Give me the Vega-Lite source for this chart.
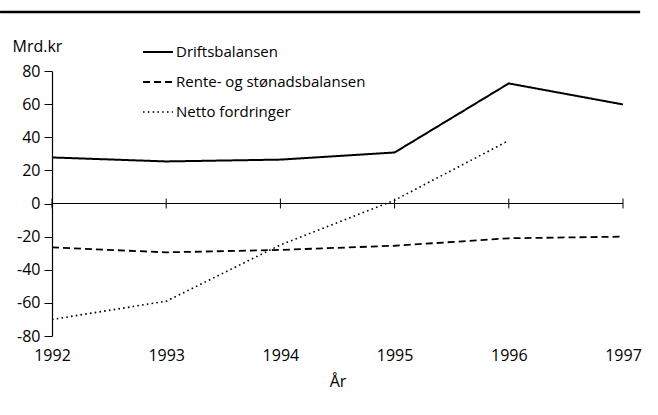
{
  "$schema": "https://vega.github.io/schema/vega-lite/v6.json",
  "width": 571,
  "height": 265,
  "autosize": "none",
  "padding": {"left": 52, "top": 71, "right": 35, "bottom": 79},
  "background": "white",
  "config": {
    "view": {"stroke": null},
    "font": "Open Sans",
    "axis": {"labelFont": "Open Sans", "titleFont": "Open Sans", "labelColor": "black", "titleColor": "black", "domainColor": "black", "tickColor": "black", "grid": false}
  },
  "datasets": {
    "series": [
      {"year": 1992, "value": 27.8, "serie": "Driftsbalansen"},
      {"year": 1993, "value": 25.4, "serie": "Driftsbalansen"},
      {"year": 1994, "value": 26.5, "serie": "Driftsbalansen"},
      {"year": 1995, "value": 30.8, "serie": "Driftsbalansen"},
      {"year": 1996, "value": 72.5, "serie": "Driftsbalansen"},
      {"year": 1997, "value": 59.8, "serie": "Driftsbalansen"},
      {"year": 1992, "value": -26.5, "serie": "Rente- og stønadsbalansen"},
      {"year": 1993, "value": -29.5, "serie": "Rente- og stønadsbalansen"},
      {"year": 1994, "value": -28, "serie": "Rente- og stønadsbalansen"},
      {"year": 1995, "value": -25.5, "serie": "Rente- og stønadsbalansen"},
      {"year": 1996, "value": -21, "serie": "Rente- og stønadsbalansen"},
      {"year": 1997, "value": -20, "serie": "Rente- og stønadsbalansen"},
      {"year": 1992, "value": -70, "serie": "Netto fordringer"},
      {"year": 1993, "value": -59, "serie": "Netto fordringer"},
      {"year": 1994, "value": -25, "serie": "Netto fordringer"},
      {"year": 1995, "value": 2, "serie": "Netto fordringer"},
      {"year": 1996, "value": 38, "serie": "Netto fordringer"}
    ],
    "years": [{"year": 1992}, {"year": 1993}, {"year": 1994}, {"year": 1995}, {"year": 1996}, {"year": 1997}]
  },
  "layer": [
    {
      "data": {"name": "series"},
      "mark": {"type": "line", "color": "black", "strokeCap": "butt"},
      "encoding": {
        "x": {
          "field": "year", "type": "quantitative",
          "scale": {"domain": [1992, 1997], "nice": false, "zero": false},
          "axis": {"title": "År", "titleFontSize": 16, "titleFontWeight": "normal", "titlePadding": 10, "labelFontSize": 16, "labelPadding": 11, "domain": false, "ticks": false, "values": [1992, 1993, 1994, 1995, 1996, 1997], "format": "d", "labelFlush": false, "labelOverlap": false}
        },
        "y": {
          "field": "value", "type": "quantitative",
          "scale": {"domain": [-80, 80], "nice": false},
          "axis": {"title": "Mrd.kr", "titleAngle": 0, "titleX": -40, "titleY": -20, "titleAlign": "left", "titleBaseline": "alphabetic", "titleFontSize": 16, "titleFontWeight": "normal", "labelFontSize": 16, "values": [-80, -60, -40, -20, 0, 20, 40, 60, 80], "labelExpr": "replace(datum.label, '−', '-')", "tickSize": 8, "labelPadding": 4, "domainWidth": 1.2, "labelOverlap": false}
        },
        "strokeDash": {
          "field": "serie", "type": "nominal",
          "scale": {"domain": ["Driftsbalansen", "Rente- og stønadsbalansen", "Netto fordringer"], "range": [[1, 0], [7, 4], [1.6, 3.2]]},
          "legend": {"orient": "none", "legendX": 90, "legendY": -35, "title": null, "symbolType": "stroke", "symbolSize": 900, "symbolStrokeColor": "black", "symbolStrokeWidth": 1.5, "labelFontSize": 15, "labelColor": "black", "rowPadding": 6, "labelOffset": 2, "labelLimit": 400}
        },
        "strokeWidth": {
          "field": "serie", "type": "nominal",
          "scale": {"domain": ["Driftsbalansen", "Rente- og stønadsbalansen", "Netto fordringer"], "range": [2, 1.6, 1.6]},
          "legend": null
        }
      }
    },
    {
      "data": {"values": [{"a": 1}]},
      "mark": {"type": "rule", "color": "black", "strokeWidth": 2.5, "clip": false},
      "encoding": {
        "x": {"datum": 1991.545, "type": "quantitative",
          "axis": {"title": "År", "titleFontSize": 16, "titleFontWeight": "normal", "titlePadding": 10, "labelFontSize": 16, "labelPadding": 11, "domain": false, "ticks": false, "values": [1992, 1993, 1994, 1995, 1996, 1997], "format": "d", "labelFlush": false, "labelOverlap": false}},
        "x2": {"datum": 1997.15},
        "y": {"datum": 115.6, "type": "quantitative",
          "axis": {"title": "Mrd.kr", "titleAngle": 0, "titleX": -40, "titleY": -20, "titleAlign": "left", "titleBaseline": "alphabetic", "titleFontSize": 16, "titleFontWeight": "normal", "labelFontSize": 16, "values": [-80, -60, -40, -20, 0, 20, 40, 60, 80], "labelExpr": "replace(datum.label, '−', '-')", "tickSize": 8, "labelPadding": 4, "domainWidth": 1.2, "labelOverlap": false}}
      }
    },
    {
      "data": {"name": "years"},
      "mark": {"type": "rule", "color": "black", "strokeWidth": 1},
      "encoding": {
        "x": {"field": "year", "type": "quantitative",
          "axis": {"title": "År", "titleFontSize": 16, "titleFontWeight": "normal", "titlePadding": 10, "labelFontSize": 16, "labelPadding": 11, "domain": false, "ticks": false, "values": [1992, 1993, 1994, 1995, 1996, 1997], "format": "d", "labelFlush": false, "labelOverlap": false}},
        "y": {"datum": -3, "type": "quantitative",
          "axis": {"title": "Mrd.kr", "titleAngle": 0, "titleX": -40, "titleY": -20, "titleAlign": "left", "titleBaseline": "alphabetic", "titleFontSize": 16, "titleFontWeight": "normal", "labelFontSize": 16, "values": [-80, -60, -40, -20, 0, 20, 40, 60, 80], "labelExpr": "replace(datum.label, '−', '-')", "tickSize": 8, "labelPadding": 4, "domainWidth": 1.2, "labelOverlap": false}},
        "y2": {"datum": 3}
      }
    },
    {
      "data": {"values": [{"a": 1}]},
      "mark": {"type": "rule", "color": "black", "strokeWidth": 1.2},
      "encoding": {
        "x": {"datum": 1992, "type": "quantitative",
          "axis": {"title": "År", "titleFontSize": 16, "titleFontWeight": "normal", "titlePadding": 10, "labelFontSize": 16, "labelPadding": 11, "domain": false, "ticks": false, "values": [1992, 1993, 1994, 1995, 1996, 1997], "format": "d", "labelFlush": false, "labelOverlap": false}},
        "x2": {"datum": 1997},
        "y": {"datum": 0, "type": "quantitative",
          "axis": {"title": "Mrd.kr", "titleAngle": 0, "titleX": -40, "titleY": -20, "titleAlign": "left", "titleBaseline": "alphabetic", "titleFontSize": 16, "titleFontWeight": "normal", "labelFontSize": 16, "values": [-80, -60, -40, -20, 0, 20, 40, 60, 80], "labelExpr": "replace(datum.label, '−', '-')", "tickSize": 8, "labelPadding": 4, "domainWidth": 1.2, "labelOverlap": false}}
      }
    }
  ]
}
